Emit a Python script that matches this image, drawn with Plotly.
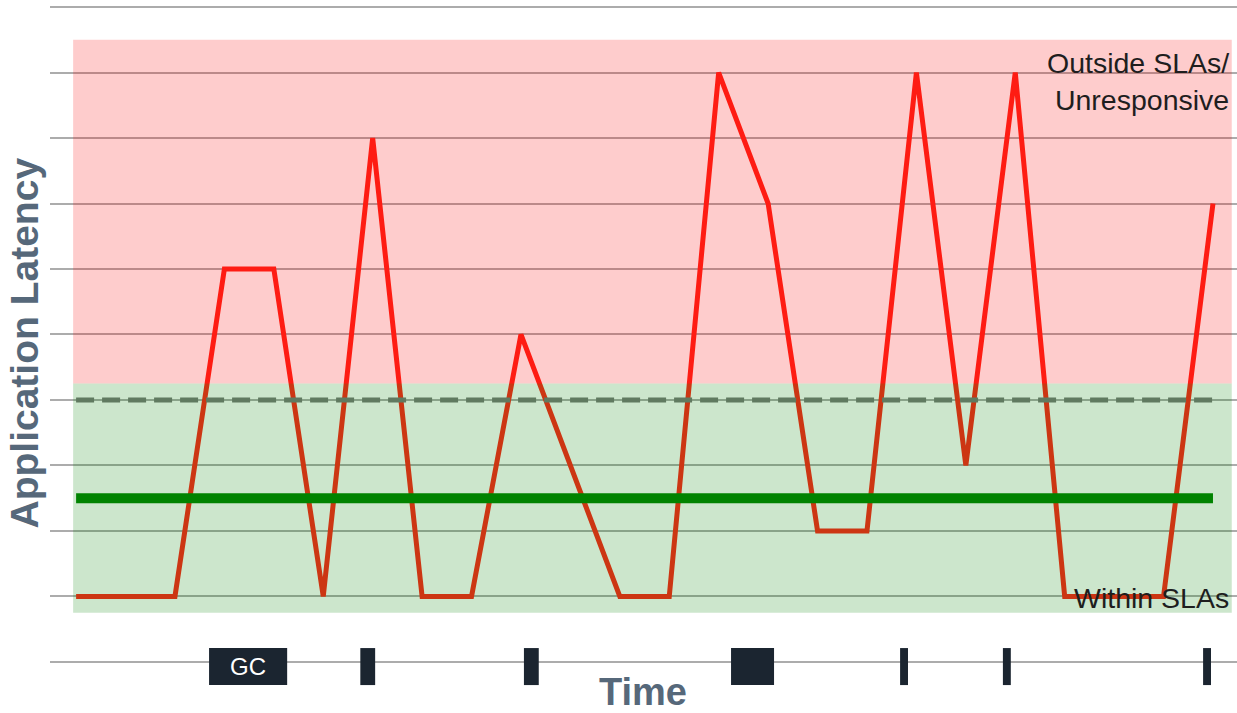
import plotly.graph_objects as go

# ---- data ----
time_idx = list(range(24))
latency = [1, 1, 1, 6, 6, 1, 8, 1, 1, 5, 3, 1, 1, 9, 7, 2, 2, 9, 3, 9, 1, 1, 1, 7]

sla_threshold = 4.0      # dashed line
avg_latency = 2.5        # thick green line
line_x = [0, 23]

band_x = [-0.06, 23.38]
green_band = [0.75, 4.25]
red_band = [4.25, 9.5]

gc_start = [2.69, 5.75, 9.06, 13.25, 16.67, 18.75, 22.80]
gc_end = [4.27, 6.05, 9.36, 14.12, 16.83, 18.91, 22.96]
gc_labels = ["GC", "", "", "", "", "", ""]
gc_level = -0.07
gc_height = 0.565

FONT = "Liberation Sans, Arial, sans-serif"
SLATE = "#56687a"

fig = go.Figure()

fig.add_trace(go.Scatter(x=time_idx, y=latency, mode="lines",
                         line=dict(color="#ff2418", width=5), hoverinfo="skip"))
fig.add_trace(go.Scatter(x=line_x, y=[sla_threshold] * 2, mode="lines",
                         line=dict(color="#787878", width=5, dash="18px,8px"), hoverinfo="skip"))
fig.add_trace(go.Scatter(x=line_x, y=[avg_latency] * 2, mode="lines",
                         line=dict(color="#008400", width=10), hoverinfo="skip"))

fig.add_trace(go.Bar(orientation="h", y=[gc_level] * len(gc_start), base=gc_start,
                     x=[e - s for s, e in zip(gc_start, gc_end)], width=gc_height,
                     marker=dict(color="#1b2530", line=dict(width=0)), hoverinfo="skip"))

# bands drawn as translucent overlays
fig.add_shape(type="rect", xref="x", yref="y", x0=band_x[0], x1=band_x[1],
              y0=red_band[0], y1=red_band[1], fillcolor="rgba(250,0,0,0.2)",
              line=dict(width=0), layer="above")
fig.add_shape(type="rect", xref="x", yref="y", x0=band_x[0], x1=band_x[1],
              y0=green_band[0], y1=green_band[1], fillcolor="rgba(0,128,0,0.2)",
              line=dict(width=0), layer="above")

# labels
fig.add_annotation(x=band_x[1] - 0.02, y=8.87, xref="x", yref="y", xanchor="right", yanchor="middle",
                   text="Outside SLAs/<br>Unresponsive", showarrow=False, align="right",
                   font=dict(family=FONT, size=28.5, color="#1e1e1e"))
fig.add_annotation(x=band_x[1] - 0.02, y=0.98, xref="x", yref="y", xanchor="right", yanchor="middle",
                   text="Within SLAs", showarrow=False, align="right",
                   font=dict(family=FONT, size=28.5, color="#1e1e1e"))
for s, e, lab in zip(gc_start, gc_end, gc_labels):
    if lab:
        fig.add_annotation(x=(s + e) / 2, y=gc_level, xref="x", yref="y",
                           text=lab, showarrow=False,
                           font=dict(family=FONT, size=24, color="white"))
fig.add_annotation(x=0.4996, y=-0.46, xref="paper", yref="y", text="<b>Time</b>",
                   xanchor="center", yanchor="middle",
                   showarrow=False, font=dict(family=FONT, size=38, color=SLATE))
fig.add_annotation(x=-0.0215, y=4.87, xref="paper", yref="y", text="<b>Application Latency</b>",
                   xanchor="center", yanchor="middle",
                   textangle=-90, showarrow=False, font=dict(family=FONT, size=39, color=SLATE))

fig.update_layout(
    width=1237, height=713,
    margin=dict(l=50, r=0, t=0, b=0),
    paper_bgcolor="white", plot_bgcolor="white",
    showlegend=False,
    xaxis=dict(range=[-0.528, 23.486], showgrid=False, zeroline=False,
               showticklabels=False, ticks="", showline=False),
    yaxis=dict(range=[-0.779, 10.107], tick0=0, dtick=1, showgrid=True,
               gridcolor="#acacac", gridwidth=2, zeroline=False,
               showticklabels=False, ticks="", showline=False),
)

fig.write_html("out.html", config={"displayModeBar": False},
               post_script="document.body.style.margin='0px';document.body.style.overflow='hidden';")
